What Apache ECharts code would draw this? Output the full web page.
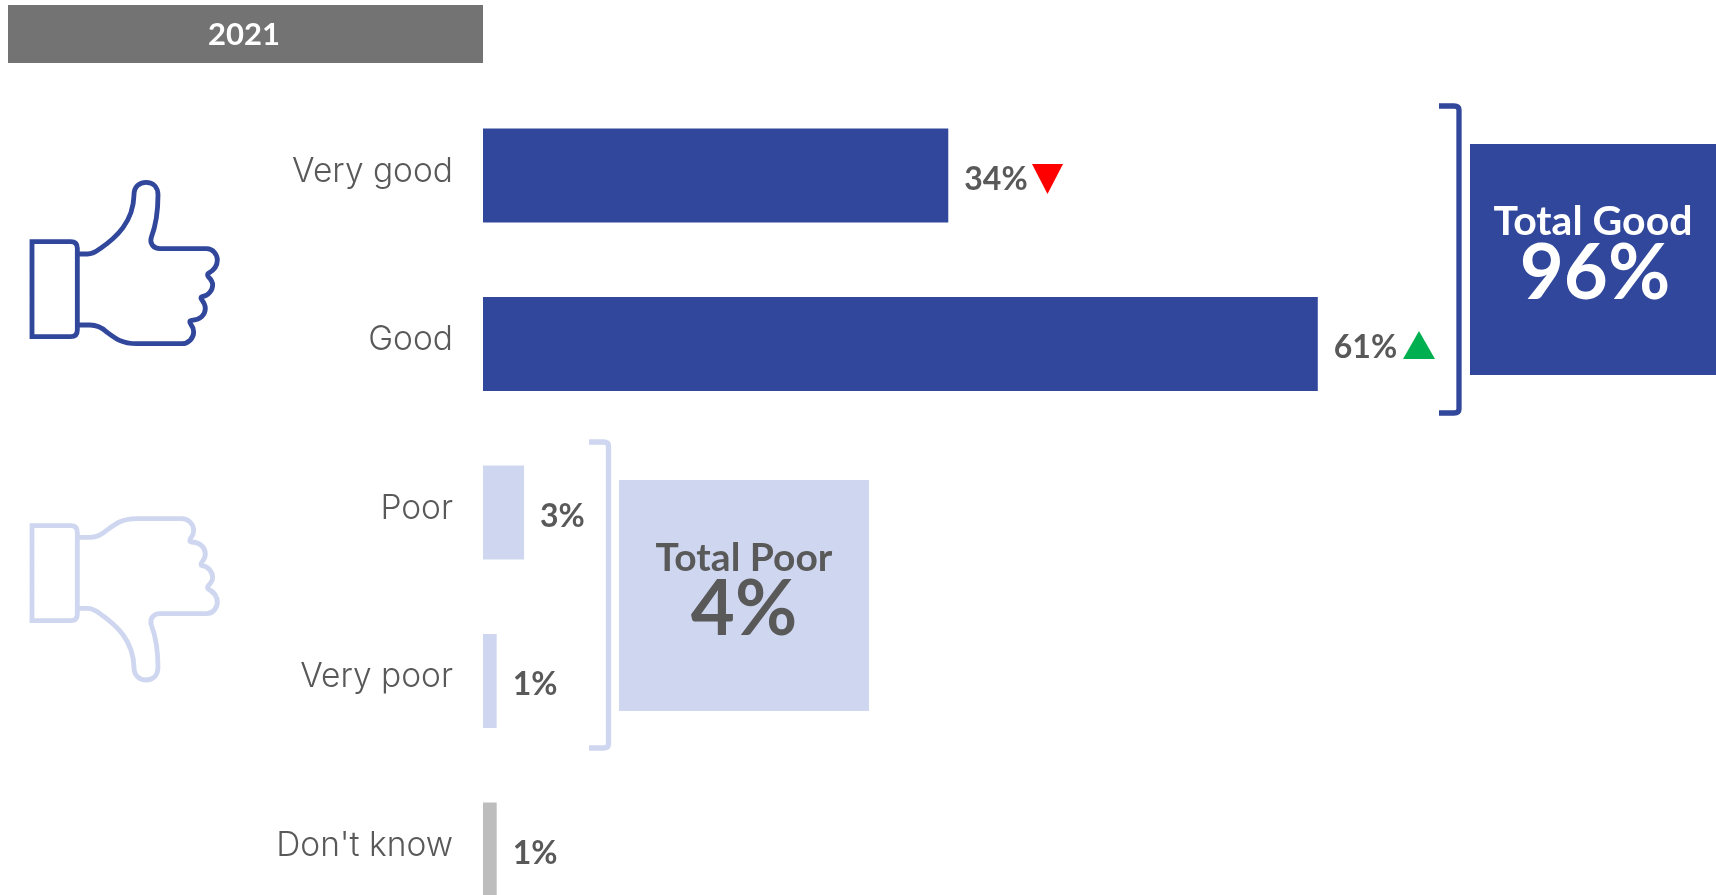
<!DOCTYPE html>
<html><head><meta charset="utf-8">
<style>html,body{margin:0;padding:0;background:#fff;overflow:hidden}#c{width:1716px;height:895px}</style>
<script src="https://cdn.jsdelivr.net/npm/echarts@6/dist/echarts.min.js"></script></head>
<body><div id="c"></div>
<script>
const categories = ["Very good","Good","Poor","Very poor","Don't know"];
const values = [34,61,3,1,1];
const barColors = ["#31479B","#31479B","#CFD7F0","#CFD7F0","#BDBDBD"];
const yearLabel = "2021";
const totalGood = ["Total Good","96%"];
const totalPoor = ["Total Poor","4%"];

const NAVY="#31479B", PALE="#CFD7F0", GREY="#595959", FONT="Lato";
const thumb = "M96 275 L212 275 Q232 275 232 295 L232 540 Q232 560 212 560 L96 560 Z "+
 "M232 312 L262 312 Q280 312 300 296 C350 262 400 215 402 135 C402 110 418 97 438 97 C460 97 474 112 474 135 C474 190 468 225 454 262 C448 280 460 296 480 296 L620 296 C640 296 652 315 652 330 C652 350 640 362 625 370 C622 372 622 376 625 380 C635 390 638 398 638 405 C638 420 625 438 606 440 C602 441 602 445 605 449 C612 458 616 465 616 475 C616 495 600 510 575 511 C568 512 568 516 572 522 C578 530 581 538 581 545 C581 565 565 581 545 581 L410 581 C365 581 345 565 320 546 C305 532 290 525 270 525 L232 525";

function txt(x,y,t,size,color,weight){return {type:'text',x,y,style:{text:t,fill:color,font:`${weight||'bold'} ${size}px ${FONT}`,align:'center',verticalAlign:'middle'},silent:true};}
function bracket(l,r,t,b,color){return {type:'path',shape:{pathData:`M${l} ${t} L${r-5} ${t} Q${r} ${t} ${r} ${t+4} L${r} ${b-4} Q${r} ${b} ${r-5} ${b} L${l} ${b}`},style:{fill:'none',stroke:color,lineWidth:5.3},silent:true};}
function rect(x,y,w,h,c){return {type:'rect',shape:{x,y,width:w,height:h},style:{fill:c},silent:true};}

const chart = echarts.init(document.getElementById('c'),null,{renderer:'canvas'});
chart.setOption({
 animation:false, backgroundColor:'#fff',
 grid:{left:483,top:175.5,width:1233,height:674,containLabel:false},
 xAxis:{type:'value',min:0,max:90.1,show:false},
 yAxis:{type:'category',inverse:true,boundaryGap:false,data:categories,
   axisLine:{show:false},axisTick:{show:false},splitLine:{show:false},
   axisLabel:{color:GREY,fontFamily:'Inter',fontSize:33.5,fontWeight:300,margin:30,verticalAlign:'bottom',lineHeight:8,interval:0,showMinLabel:true,showMaxLabel:true}},
 series:[{type:'bar',barWidth:94,silent:true,clip:false,
   data:values.map((v,i)=>({value:v,itemStyle:{color:barColors[i]}})),
   label:{show:true,position:'right',distance:16,offset:[0,4],formatter:'{c}%',color:GREY,fontFamily:FONT,fontWeight:'bold',fontSize:32}},
  {type:'custom',coordinateSystem:'none',silent:true,data:[0],
   renderItem:()=>({type:'group',children:[
     {type:'path',shape:{pathData:thumb},x:0,y:150,scaleX:1/3,scaleY:1/3,style:{fill:'none',stroke:NAVY,lineWidth:14.5}},
     {type:'path',shape:{pathData:thumb},x:0,y:712.33,scaleX:1/3,scaleY:-1/3,style:{fill:'none',stroke:PALE,lineWidth:14.5}},
     bracket(1439,1459,106,413,NAVY),
     bracket(589,608.5,442,748,PALE)
   ]})}],
 graphic:[
  rect(8,5,475,58,'#737373'),
  txt(244,35,yearLabel,31,'#fff'),
  {type:'polygon',shape:{points:[[1032,164],[1063,164],[1047.5,194]]},style:{fill:'#FF0000'},silent:true},
  {type:'polygon',shape:{points:[[1403,359],[1435,359],[1419,331]]},style:{fill:'#00B050'},silent:true},
  rect(1470,144,246,231,NAVY),
  txt(1593,222,totalGood[0],41,'#fff'),
  txt(1595,274,totalGood[1],76,'#fff'),
  rect(619,480,250,231,PALE),
  txt(744,558,totalPoor[0],39,GREY),
  txt(744,610,totalPoor[1],76,GREY)
 ]
});
</script></body></html>
